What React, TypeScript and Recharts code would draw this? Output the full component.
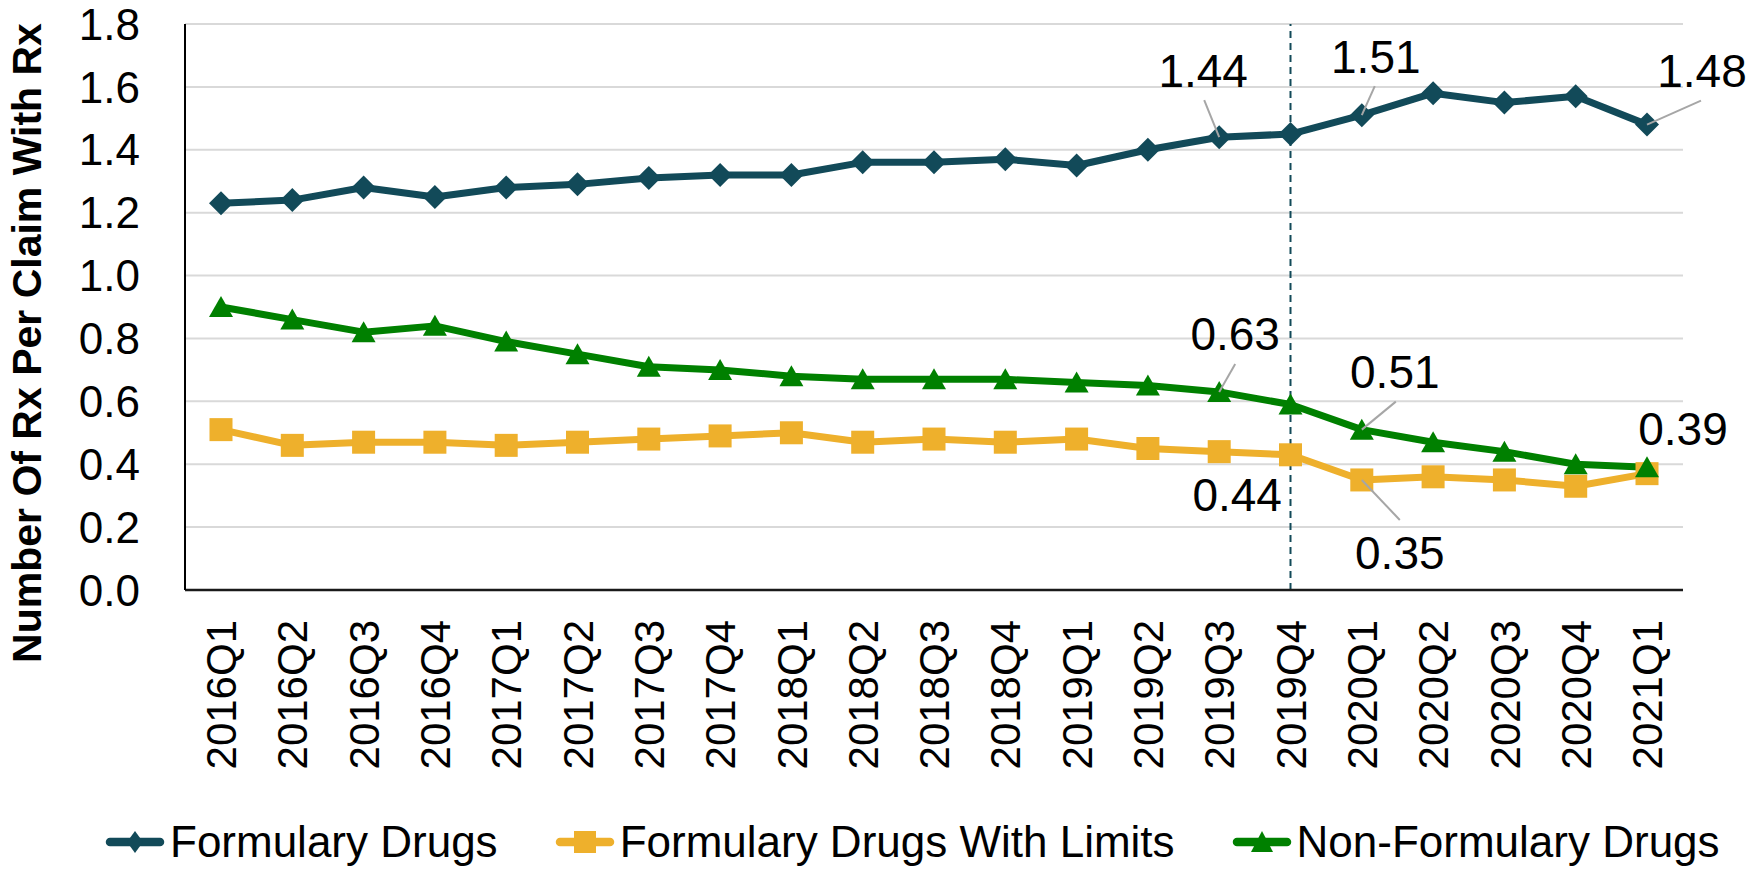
import React from "react";
import {
  LineChart,
  Line,
  XAxis,
  YAxis,
  CartesianGrid,
  ReferenceLine,
  Legend,
  LabelList,
  Label,
} from "recharts";

const quarters = [
  "2016Q1", "2016Q2", "2016Q3", "2016Q4",
  "2017Q1", "2017Q2", "2017Q3", "2017Q4",
  "2018Q1", "2018Q2", "2018Q3", "2018Q4",
  "2019Q1", "2019Q2", "2019Q3", "2019Q4",
  "2020Q1", "2020Q2", "2020Q3", "2020Q4",
  "2021Q1",
];

const formularyDrugs = [
  1.23, 1.24, 1.28, 1.25, 1.28, 1.29, 1.31, 1.32, 1.32, 1.36, 1.36,
  1.37, 1.35, 1.40, 1.44, 1.45, 1.51, 1.58, 1.55, 1.57, 1.48,
];

const drugsWithLimits = [
  0.51, 0.46, 0.47, 0.47, 0.46, 0.47, 0.48, 0.49, 0.50, 0.47, 0.48,
  0.47, 0.48, 0.45, 0.44, 0.43, 0.35, 0.36, 0.35, 0.33, 0.37,
];

const nonFormularyDrugs = [
  0.90, 0.86, 0.82, 0.84, 0.79, 0.75, 0.71, 0.70, 0.68, 0.67, 0.67,
  0.67, 0.66, 0.65, 0.63, 0.59, 0.51, 0.47, 0.44, 0.40, 0.39,
];

const yTicks = [0, 0.2, 0.4, 0.6, 0.8, 1.0, 1.2, 1.4, 1.6, 1.8];
const dividerQuarter = "2019Q4";

const data = quarters.map((q, i) => ({
  q,
  formulary: formularyDrugs[i],
  limits: drugsWithLimits[i],
  nonFormulary: nonFormularyDrugs[i],
}));

const TEAL = "#124A59";
const GOLD = "#EEB02C";
const GREEN = "#008000";
const FONT = "'Liberation Sans', Arial, sans-serif";

// where each annotated value label sits relative to its point (dx/dy), and the leader end (lx/ly)
type Note = { dx: number; dy: number; lx?: number; ly?: number };
const formularyNotes: Record<string, Note> = {
  "2019Q3": { dx: -16, dy: -67, lx: -15, ly: -37 },
  "2020Q1": { dx: 14, dy: -59, lx: 13, ly: -29 },
  "2021Q1": { dx: 55, dy: -54, lx: 54, ly: -24 },
};
const limitsNotes: Record<string, Note> = {
  "2019Q3": { dx: 18, dy: 43 },
  "2020Q1": { dx: 38, dy: 72, lx: 38, ly: 40 },
};
const nonFormularyNotes: Record<string, Note> = {
  "2019Q3": { dx: 16, dy: -58, lx: 16, ly: -28 },
  "2020Q1": { dx: 33, dy: -58, lx: 34, ly: -28 },
  "2021Q1": { dx: 36, dy: -39 },
};

const noteLabel = (notes: Record<string, Note>) => (props: any) => {
  const { x, y, value, index } = props;
  const note = notes[quarters[index]];
  if (!note) return null;
  return (
    <g key={`note-${index}`}>
      {note.lx !== undefined && (
        <line x1={x} y1={y} x2={x + note.lx} y2={y + (note.ly || 0)} stroke="#A6A6A6" strokeWidth={2} />
      )}
      <text x={x + note.dx} y={y + note.dy} dy="0.36em" textAnchor="middle" fontSize={46} fill="#000" fontFamily={FONT}>
        {Number(value).toFixed(2)}
      </text>
    </g>
  );
};

const diamondDot = (p: any) => (
  <polygon
    key={`fd-${p.index}`}
    points={`${p.cx},${p.cy - 12} ${p.cx + 12},${p.cy} ${p.cx},${p.cy + 12} ${p.cx - 12},${p.cy}`}
    fill={TEAL}
  />
);
const squareDot = (p: any) => (
  <rect key={`ld-${p.index}`} x={p.cx - 11.5} y={p.cy - 11.5} width={23} height={23} fill={GOLD} />
);
const triangleDot = (p: any) => (
  <polygon
    key={`nd-${p.index}`}
    points={`${p.cx},${p.cy - 11} ${p.cx + 12},${p.cy + 10} ${p.cx - 12},${p.cy + 10}`}
    fill={GREEN}
  />
);

const XTick = (props: any) => {
  const { x, y, payload } = props;
  return (
    <g transform={`translate(${x},${y + 30})`}>
      <text transform="rotate(-90)" textAnchor="end" dy="0.36em" fontSize={42} fill="#000" fontFamily={FONT}>
        {payload.value}
      </text>
    </g>
  );
};

const legendItems = [
  { name: "Formulary Drugs", color: TEAL, shape: "diamond" },
  { name: "Formulary Drugs With Limits", color: GOLD, shape: "square" },
  { name: "Non-Formulary Drugs", color: GREEN, shape: "triangle" },
];

const LegendMarker = ({ color, shape }: { color: string; shape: string }) => (
  <svg width={60} height={30} style={{ display: "block", flex: "none", overflow: "visible" }}>
    <line x1={5} y1={15} x2={55} y2={15} stroke={color} strokeWidth={8.5} strokeLinecap="round" />
    {shape === "diamond" && <polygon points="30,4 38,15 30,26 22,15" fill={color} />}
    {shape === "square" && <rect x={19} y={4} width={22} height={22} fill={color} />}
    {shape === "triangle" && <polygon points="30,4 41,25 19,25" fill={color} />}
  </svg>
);

const renderLegend = () => (
  <div
    style={{
      height: 66,
      display: "flex",
      alignItems: "center",
      paddingLeft: 105,
      paddingTop: 12,
      boxSizing: "border-box",
    }}
  >
    {legendItems.map((it) => (
      <div key={it.name} style={{ display: "flex", alignItems: "center", marginRight: 57 }}>
        <LegendMarker color={it.color} shape={it.shape} />
        <span
          style={{
            fontFamily: FONT,
            fontSize: 44,
            color: "#000",
            marginLeft: 5,
            whiteSpace: "nowrap",
            lineHeight: "54px",
          }}
        >
          {it.name}
        </span>
      </div>
    ))}
  </div>
);

export default function App() {
  return (
    <div style={{ position: "absolute", left: 0, top: 0, width: 1748, height: 869, background: "#fff" }}>
      <LineChart
        width={1748}
        height={869}
        data={data}
        margin={{ top: 24, right: 65, left: 0, bottom: 0 }}
        style={{ fontFamily: FONT }}
      >
        <CartesianGrid vertical={false} stroke="#D9D9D9" strokeWidth={2} />
        <XAxis
          dataKey="q"
          scale="point"
          padding={{ left: 36, right: 36 }}
          height={213}
          interval={0}
          tickLine={false}
          tickSize={0}
          tickMargin={0}
          axisLine={{ stroke: "#1a1a1a", strokeWidth: 2.5 }}
          tick={<XTick />}
        />
        <YAxis
          width={185}
          domain={[0, 1.8]}
          ticks={yTicks}
          interval={0}
          tickFormatter={(v: number) => v.toFixed(1)}
          tickLine={false}
          tickSize={0}
          tickMargin={45}
          axisLine={{ stroke: "#000", strokeWidth: 2 }}
          tick={{ fontSize: 44, fill: "#000", fontFamily: FONT }}
        >
          <Label
            content={(props: any) => {
              const vb = props.viewBox || { y: 24, height: 566 };
              const cy = vb.y + vb.height / 2 + 36;
              return (
                <text
                  transform={`translate(26,${cy}) rotate(-90)`}
                  textAnchor="middle"
                  dy="0.36em"
                  fontSize={41}
                  fontWeight="bold"
                  fill="#000"
                  fontFamily={FONT}
                >
                  Number Of Rx Per Claim With Rx
                </text>
              );
            }}
          />
        </YAxis>
        <ReferenceLine x={dividerQuarter} stroke={TEAL} strokeWidth={2} strokeDasharray="7 5" />
        <Line
          type="linear"
          dataKey="formulary"
          name="Formulary Drugs"
          stroke={TEAL}
          strokeWidth={7}
          strokeLinejoin="round"
          dot={diamondDot}
          activeDot={false}
          isAnimationActive={false}
        >
          <LabelList dataKey="formulary" content={noteLabel(formularyNotes)} />
        </Line>
        <Line
          type="linear"
          dataKey="limits"
          name="Formulary Drugs With Limits"
          stroke={GOLD}
          strokeWidth={7}
          strokeLinejoin="round"
          dot={squareDot}
          activeDot={false}
          isAnimationActive={false}
        >
          <LabelList dataKey="limits" content={noteLabel(limitsNotes)} />
        </Line>
        <Line
          type="linear"
          dataKey="nonFormulary"
          name="Non-Formulary Drugs"
          stroke={GREEN}
          strokeWidth={7}
          strokeLinejoin="round"
          dot={triangleDot}
          activeDot={false}
          isAnimationActive={false}
        >
          <LabelList dataKey="nonFormulary" content={noteLabel(nonFormularyNotes)} />
        </Line>
        <Legend verticalAlign="bottom" content={renderLegend} />
      </LineChart>
    </div>
  );
}
